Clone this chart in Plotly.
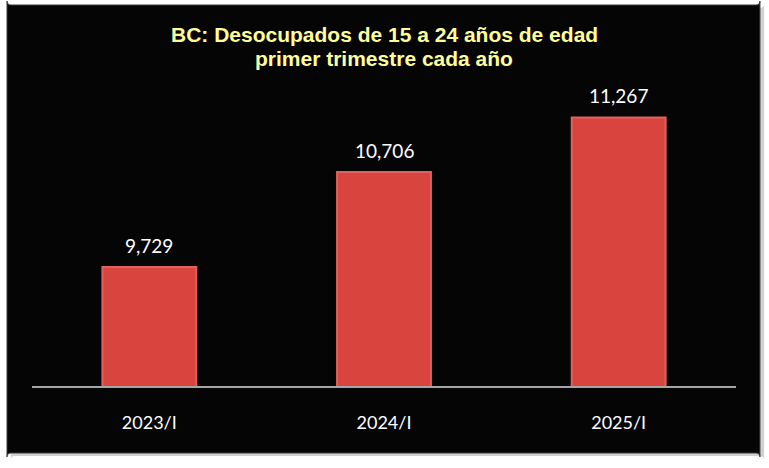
import plotly.graph_objects as go

# Data
periodos = ["2023/I", "2024/I", "2025/I"]
desocupados = [9729, 10706, 11267]

titulo_1 = "BC: Desocupados de 15 a 24 años de edad"
titulo_2 = "primer trimestre cada año"

fig = go.Figure()
fig.add_trace(go.Bar(
    x=periodos,
    y=desocupados,
    width=0.4,
    marker=dict(color="#D9443F", line=dict(color="#E0625C", width=2)),
))

# value labels above bars
for p, v in zip(periodos, desocupados):
    fig.add_annotation(x=p, y=v, text=f"{v:,}", showarrow=False,
                       yanchor="bottom", yshift=8,
                       font=dict(family="Lato, Open Sans, sans-serif", size=19, color="white"))

# two-line title, placed as annotations to control line spacing
title_font = dict(family="Liberation Sans, Arial, sans-serif", size=21, color="#FFFF99", weight="bold")
fig.add_annotation(x=0.5, y=1.077, xref="paper", yref="paper", text=titulo_1,
                   showarrow=False, yanchor="middle", font=title_font)
fig.add_annotation(x=0.5, y=1.005, xref="paper", yref="paper", text=titulo_2,
                   showarrow=False, yanchor="middle", font=title_font)

# black rounded panel with a soft shadow behind the plot
def rounded(x0, y0, x1, y1, rx, ry):
    return (f"M{x0+rx},{y0} L{x1-rx},{y0} Q{x1},{y0} {x1},{y0+ry} "
            f"L{x1},{y1-ry} Q{x1},{y1} {x1-rx},{y1} L{x0+rx},{y1} "
            f"Q{x0},{y1} {x0},{y1-ry} L{x0},{y0+ry} Q{x0},{y0} {x0+rx},{y0} Z")

fig.update_layout(
    width=769, height=468,
    margin=dict(l=32, r=33, t=60, b=82),
    paper_bgcolor="white",
    plot_bgcolor="rgba(0,0,0,0)",
    showlegend=False,
    xaxis=dict(
        showline=True, linecolor="#A6A6A6", linewidth=1.5,
        showgrid=False, ticks="",
        ticklabelstandoff=20,
        tickfont=dict(family="Lato, Open Sans, sans-serif", size=18, color="white"),
    ),
    yaxis=dict(range=[8505, 11858], visible=False, showgrid=False),
    shapes=[
        dict(type="path", xref="paper", yref="paper", layer="below",
             path=rounded(-0.030, 1.160, 1.040, -0.215, 0.006, 0.012),
             fillcolor="rgba(0,0,0,0.18)", line=dict(width=0)),
        dict(type="path", xref="paper", yref="paper", layer="below",
             path=rounded(-0.0355, 1.1687, 1.034, -0.2055, 0.006, 0.012),
             fillcolor="#050505", line=dict(color="#3A3A3A", width=1)),
    ],
)

fig.write_html("out.html", config={"displayModeBar": False},
               post_script="document.body.style.margin='0';")
